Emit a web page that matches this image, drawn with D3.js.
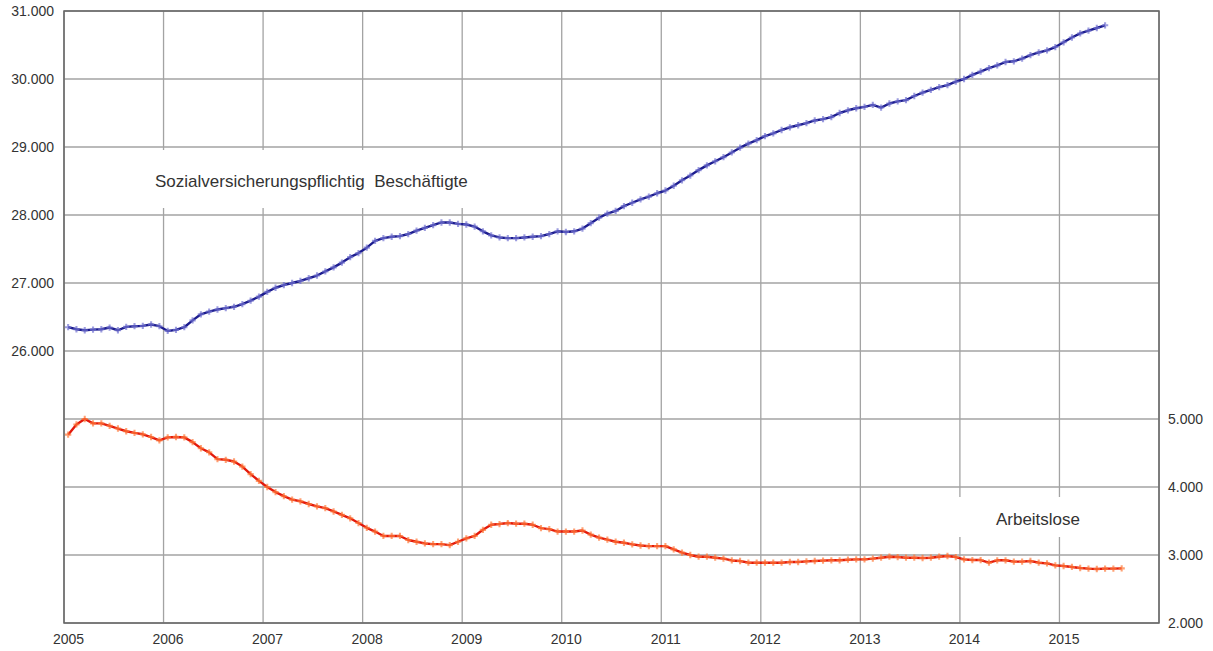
<!DOCTYPE html>
<html>
<head>
<meta charset="utf-8">
<script src="https://cdn.jsdelivr.net/npm/d3@7"></script>
<style>
  html, body { margin: 0; padding: 0; background: #fff; }
  text { font-family: "Liberation Sans", Arial, sans-serif; }
</style>
</head>
<body>
<div id="chart"></div>
<script>
// Monthly values (thousands), first value = January 2005
const startYear = 2005;

const beschaeftigte = [
  26350, 26320, 26305, 26315, 26320, 26345, 26305, 26355, 26365, 26370, 26390, 26365,
  26295, 26310, 26350, 26450, 26540, 26580, 26610, 26630, 26650, 26690, 26740, 26800,
  26870, 26930, 26970, 27000, 27030, 27070, 27110, 27170, 27230, 27300, 27380, 27440,
  27520, 27620, 27660, 27680, 27690, 27720, 27770, 27810, 27850, 27890, 27890, 27870,
  27860, 27830, 27760, 27700, 27670, 27660, 27660, 27670, 27680, 27690, 27720, 27760,
  27750, 27760, 27800, 27880, 27960, 28020, 28060, 28130, 28180, 28230, 28270, 28320,
  28360, 28430, 28510, 28580, 28660, 28730, 28790, 28850, 28920, 28990, 29050, 29100,
  29160, 29200, 29250, 29290, 29320, 29350, 29390, 29410, 29440, 29500, 29540, 29570,
  29590, 29620, 29580, 29640, 29670, 29690, 29750, 29800, 29840, 29880, 29910, 29960,
  30000, 30060, 30110, 30160, 30200, 30250, 30260, 30300, 30350, 30390, 30420, 30470,
  30540, 30610, 30670, 30710, 30750, 30790
];

const arbeitslose = [
  4770, 4920, 5000, 4935, 4935, 4900, 4860, 4820, 4795, 4775, 4735, 4685,
  4730, 4735, 4730, 4660, 4570, 4510, 4410, 4400, 4375, 4300, 4190, 4090,
  4000, 3925, 3865, 3815, 3790, 3750, 3715, 3690, 3640, 3590, 3540, 3470,
  3400, 3345, 3280, 3280, 3280, 3220, 3195, 3170, 3160, 3160, 3145, 3195,
  3245, 3280, 3370, 3445, 3455, 3470, 3460, 3460, 3445, 3395, 3380, 3345,
  3345, 3345, 3360, 3300, 3255, 3225, 3195, 3180, 3157, 3140, 3130, 3130,
  3130, 3083, 3035, 3000, 2975, 2975, 2960, 2946, 2920, 2912, 2887, 2887,
  2887, 2887, 2887, 2897, 2897, 2907, 2912, 2917, 2922, 2922, 2931, 2936,
  2936, 2946, 2960, 2975, 2970, 2960, 2960, 2956, 2960, 2975, 2985, 2970,
  2936, 2926, 2926, 2887, 2922, 2922, 2902, 2902, 2912, 2887, 2877, 2848,
  2838, 2824, 2809, 2799, 2794, 2799, 2799, 2804
];

const yearTicks = [2005, 2006, 2007, 2008, 2009, 2010, 2011, 2012, 2013, 2014, 2015];
const leftTicks = [26000, 27000, 28000, 29000, 30000, 31000];
const rightTicks = [2000, 3000, 4000, 5000];
const gridYears = d3.range(2005, 2017);
const gridLeft = d3.range(22000, 31001, 1000);

const width = 1213, height = 651;
const plot = { left: 64, right: 1159, top: 11, bottom: 623 };

const de = d3.formatLocale({ decimal: ",", thousands: ".", grouping: [3], currency: ["", " €"] });
const fmt = de.format(",.0f");

const svg = d3.select("#chart").append("svg")
  .attr("width", width)
  .attr("height", height);

svg.append("rect").attr("width", width).attr("height", height).attr("fill", "#fff");

// Scales
const x = d3.scaleLinear().domain([2005, 2016]).range([plot.left, plot.right]);
const yLeft = d3.scaleLinear().domain([22000, 31000]).range([plot.bottom, plot.top]);
const yRight = d3.scaleLinear().domain([2000, 11000]).range([plot.bottom, plot.top]);

// Grid
const grid = svg.append("g").attr("stroke", "#a3a3a3").attr("stroke-width", 1.3);
grid.selectAll(".gv").data(gridYears).enter().append("line")
  .attr("x1", d => x(d)).attr("x2", d => x(d))
  .attr("y1", plot.top).attr("y2", plot.bottom);
grid.selectAll(".gh").data(gridLeft).enter().append("line")
  .attr("x1", plot.left).attr("x2", plot.right)
  .attr("y1", d => yLeft(d)).attr("y2", d => yLeft(d));

// White boxes behind the series labels (they hide the grid)
svg.append("rect").attr("x", 142).attr("y", 150).attr("width", 346).attr("height", 58).attr("fill", "#fff");
svg.append("rect").attr("x", 948).attr("y", 497).attr("width", 195).attr("height", 40).attr("fill", "#fff");

// Frame
svg.append("rect")
  .attr("x", plot.left).attr("y", plot.top)
  .attr("width", plot.right - plot.left).attr("height", plot.bottom - plot.top)
  .attr("fill", "none").attr("stroke", "#666").attr("stroke-width", 1.5);

// Axes
const axisX = svg.append("g")
  .attr("transform", "translate(0," + plot.bottom + ")")
  .call(d3.axisBottom(x).tickValues(yearTicks).tickFormat(d3.format("d")).tickSize(0).tickPadding(11));
const axisL = svg.append("g")
  .attr("transform", "translate(" + plot.left + ",0)")
  .call(d3.axisLeft(yLeft).tickValues(leftTicks).tickFormat(fmt).tickSize(0).tickPadding(10));
const axisR = svg.append("g")
  .attr("transform", "translate(" + plot.right + ",0)")
  .call(d3.axisRight(yRight).tickValues(rightTicks).tickFormat(fmt).tickSize(0).tickPadding(9));

[axisX, axisL, axisR].forEach(a => {
  a.select(".domain").remove();
  a.selectAll("text")
    .attr("fill", "#333")
    .style("font-size", "14px")
    .style("font-family", "'Liberation Sans', Arial, sans-serif");
});
axisX.selectAll("text").attr("dx", 4);

// Series
function monthX(i) {
  return x(startYear + (i + 0.5) / 12);
}

function drawSeries(values, yScale, lineColor, markColor) {
  const line = d3.line()
    .x((d, i) => monthX(i))
    .y(d => yScale(d));

  svg.append("path")
    .datum(values)
    .attr("fill", "none")
    .attr("stroke", lineColor)
    .attr("stroke-width", 2.4)
    .attr("stroke-linejoin", "round")
    .attr("d", line);

  const marker = d3.symbol().type(d3.symbolCross).size(22);
  svg.append("g").selectAll("path")
    .data(values)
    .enter()
    .append("path")
    .attr("d", marker)
    .attr("transform", (d, i) => "translate(" + monthX(i) + "," + yScale(d) + ")")
    .attr("fill", markColor)
    .attr("fill-opacity", 0.7);
}

drawSeries(beschaeftigte, yLeft, "#1c1c8e", "#7373d2");
drawSeries(arbeitslose, yRight, "#e3190b", "#ff7a3a");

// Series labels
svg.append("text")
  .attr("x", 155).attr("y", 187)
  .attr("fill", "#333")
  .style("font-size", "17px")
  .style("white-space", "pre")
  .text("Sozialversicherungspflichtig  Beschäftigte");

svg.append("text")
  .attr("x", 1038).attr("y", 525)
  .attr("text-anchor", "middle")
  .attr("fill", "#333")
  .style("font-size", "17px")
  .text("Arbeitslose");
</script>
</body>
</html>
